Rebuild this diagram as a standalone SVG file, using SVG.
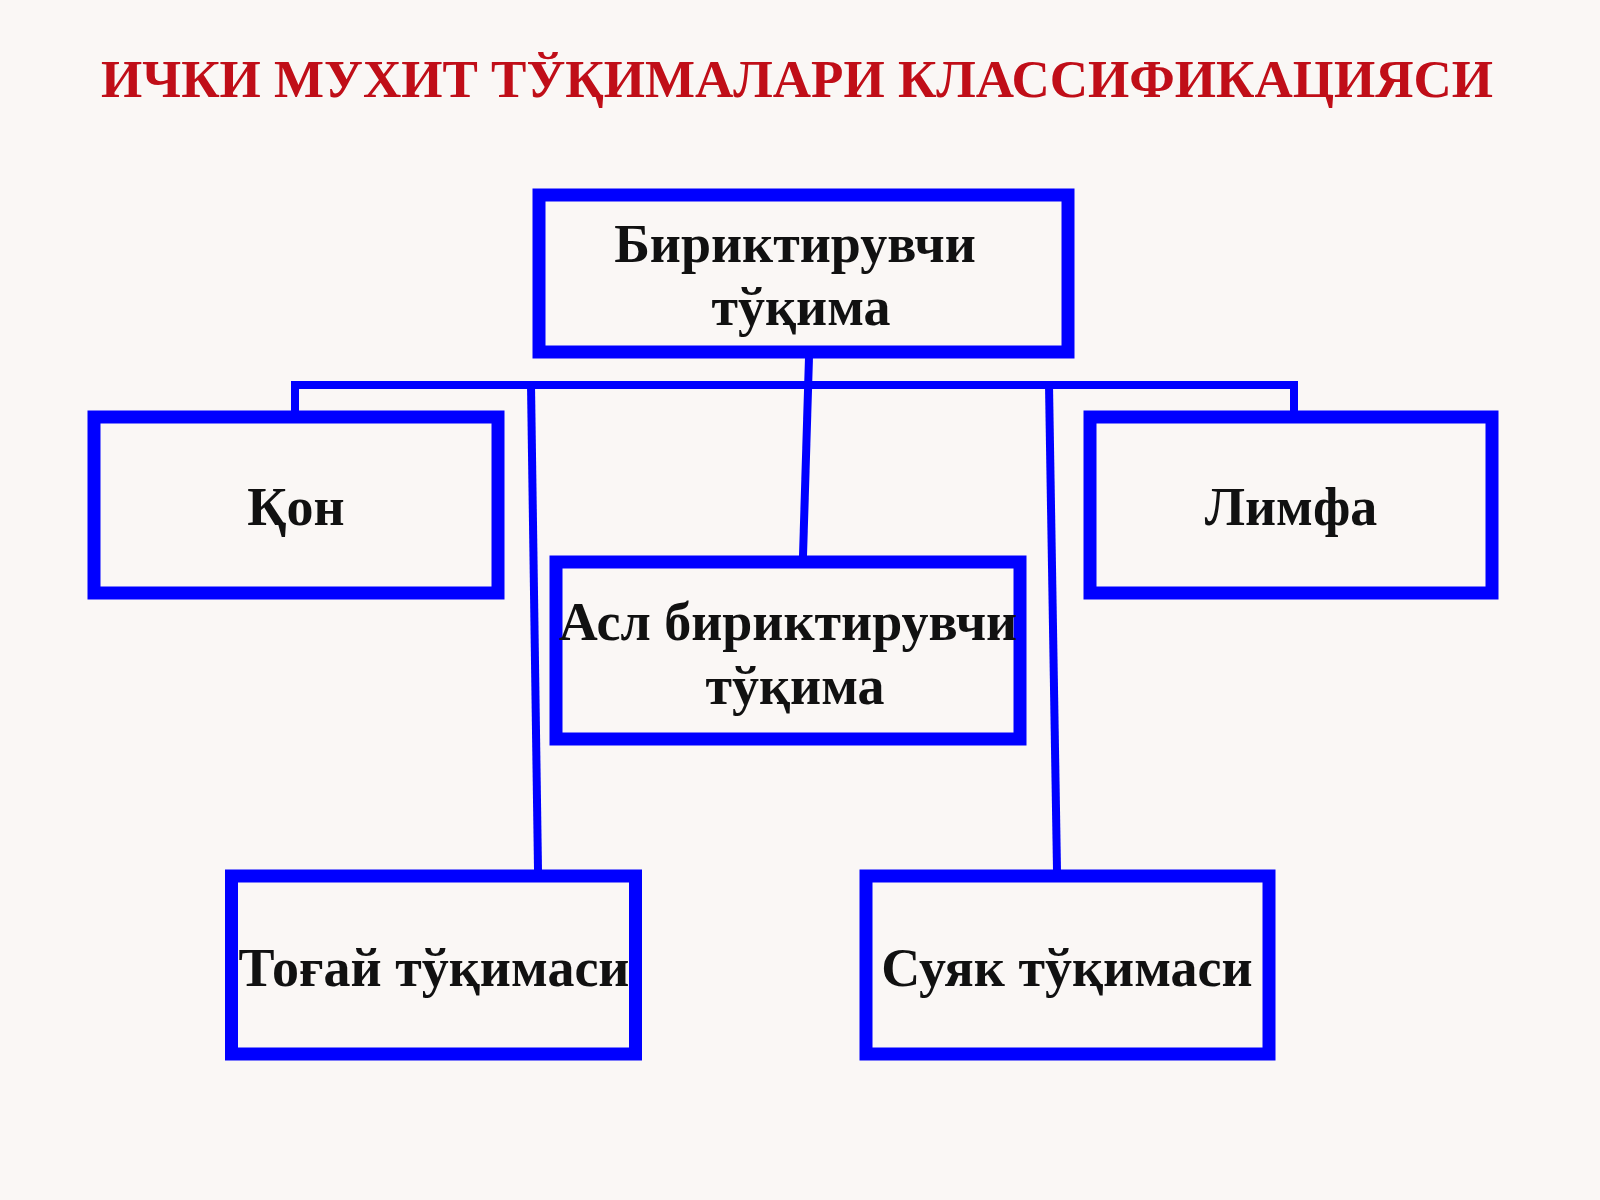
<svg xmlns="http://www.w3.org/2000/svg" width="1600" height="1200" viewBox="0 0 1600 1200">
<style>
.box{fill:none;stroke:#0000FF;stroke-width:13}
.lbl{font-family:"Liberation Serif","Times New Roman",serif;font-weight:bold;font-size:54px;fill:#111;text-anchor:middle}
.con{stroke:#0000FF;stroke-width:8;fill:none}
.title{font-family:"Liberation Serif","Times New Roman",serif;font-weight:bold;font-size:53px;fill:#C00E18;text-anchor:middle}
</style>
<rect width="1600" height="1200" fill="#FAF7F5"/>
<text class="title" x="797" y="97">ИЧКИ МУХИТ ТЎҚИМАЛАРИ КЛАССИФИКАЦИЯСИ</text>
<g id="connectors">
<line class="con" x1="809" y1="357" x2="803" y2="556"/>
<polyline class="con" points="295,411 295,385 1294,385 1294,411"/>
<line class="con" x1="531" y1="385" x2="538" y2="870"/>
<line class="con" x1="1049" y1="385" x2="1057" y2="870"/>
</g>
<g id="n-top">
<rect class="box" x="539" y="195" width="529" height="157"/>
<text class="lbl" x="795" y="262">Бириктирувчи</text>
<text class="lbl" x="801" y="325">тўқима</text>
</g>
<g id="n-qon">
<rect class="box" x="94" y="417" width="404" height="176"/>
<text class="lbl" x="296" y="525">Қон</text>
</g>
<g id="n-limfa">
<rect class="box" x="1090" y="417" width="402" height="176"/>
<text class="lbl" x="1291" y="525">Лимфа</text>
</g>
<g id="n-asl">
<rect class="box" x="556" y="562" width="464" height="177"/>
<text class="lbl" x="788" y="640">Асл бириктирувчи</text>
<text class="lbl" x="795" y="704">тўқима</text>
</g>
<g id="n-togay">
<rect class="box" x="231.5" y="876" width="404" height="178"/>
<text class="lbl" x="434" y="986">Тоғай тўқимаси</text>
</g>
<g id="n-suyak">
<rect class="box" x="866" y="876" width="403" height="178"/>
<text class="lbl" x="1067" y="986">Суяк тўқимаси</text>
</g>
</svg>
